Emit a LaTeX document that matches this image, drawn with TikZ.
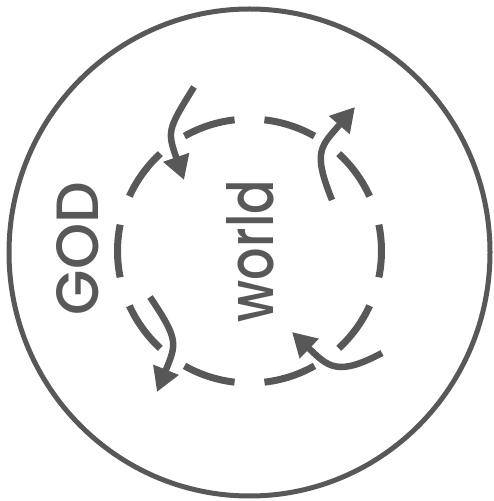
\documentclass[tikz,border=0pt]{standalone}
\usepackage{fontspec}
\setmainfont{Poppins}[UprightFont={* Medium}]
\usepackage{graphicx}
\usetikzlibrary{arrows.meta}
\definecolor{ink}{RGB}{88,88,88}
\tikzset{
  outerring/.style={draw=ink, line width=5pt},
  dashring/.style={draw=ink, line width=7pt, line cap=butt},
  flow/.style={draw=ink, line width=6.5pt, -{Triangle[length=24pt,width=26pt]}, looseness=1.4},
  label/.style={inner sep=0pt, text=ink, rotate=90}
}
\begin{document}
\begin{tikzpicture}[x=1pt,y=1pt]
\useasboundingbox (0,0) rectangle (493,501);
% outer ring
\coordinate (oc) at (249.5,248.5);
\draw[outerring] (oc) ellipse [x radius=240.5, y radius=243.5];
% dashed inner ring
\coordinate (ic) at (249.5,250);
\foreach \a in {0,36,...,324}{
  \draw[dashring] (ic) ++(\a-11.5:132) arc[start angle=\a-11.5, end angle=\a+11.5, radius=132];
}
% labels
\node[label] (god) at (77.5,252.5) {\resizebox{133pt}{42pt}{GOD}};
\node[label] (world) at (250,250) {\resizebox{142pt}{47pt}{world}};
% arrows
\coordinate (tls) at (194,414); \coordinate (tle) at (184,321);
\coordinate (trs) at (332,301); \coordinate (tre) at (355,394);
\coordinate (bls) at (150,204); \coordinate (ble) at (157,109);
\coordinate (brs) at (382,148); \coordinate (bre) at (292,169);
\draw[flow] (tls) to[out=238, in=109] (tle);
\draw[flow] (trs) to[out=112, in=229] (tre);
\draw[flow] (bls) to[out=304, in=68] (ble);
\draw[flow] (brs) to[out=208, in=316] (bre);
\end{tikzpicture}
\end{document}
